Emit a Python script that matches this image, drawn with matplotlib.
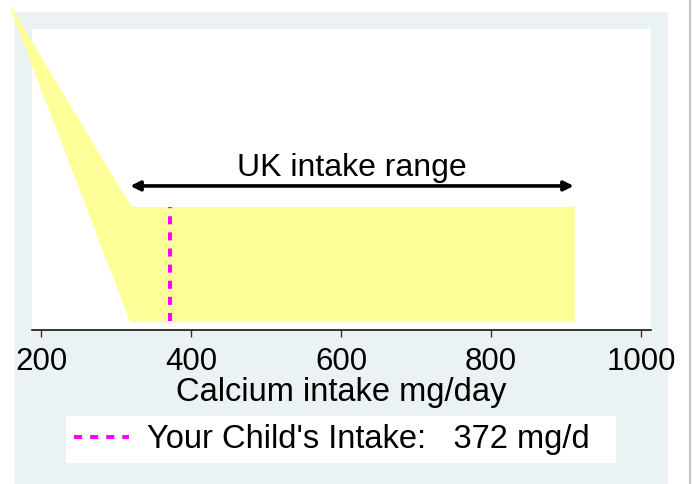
import matplotlib
matplotlib.use("Agg")
import matplotlib.pyplot as plt
from matplotlib.patches import Rectangle
from matplotlib.lines import Line2D

plt.rcParams['font.family'] = ['Liberation Sans', 'DejaVu Sans']

# data
range_x = [159, 319, 910]          # tip, start and end of UK intake range
range_lower = [2.75, 0, 0]
range_upper = [2.75, 1, 1]
child_intake = 372
xticks = [200, 400, 600, 800, 1000]

W, H = 692, 484
fig = plt.figure(figsize=(W / 100, H / 100), dpi=100)
fig.patch.set_facecolor('white')

# Stata-style graph region
fig.patches.append(Rectangle((15 / W, 0), (668 - 15) / W, (H - 12) / H,
                             transform=fig.transFigure, facecolor='#eaf2f3',
                             edgecolor='none', zorder=-10))
fig.lines.append(Line2D([690 / W, 690 / W], [0, 1], transform=fig.transFigure,
                        color='#c4c4c4', lw=1.6, zorder=-10))

ax = fig.add_axes([32 / W, (H - 330) / H, (651 - 32) / W, (330 - 29) / H])
ax.set_facecolor('white')
ax.set_xlim(188, 1013)
ax.set_ylim(-0.079, 2.56)

ax.fill_between(range_x, range_lower, range_upper, color='#ffff99',
                edgecolor='#ffff88', lw=0.8, clip_on=False, zorder=2)

ax.vlines(child_intake, 0, 1, color='#ff00ff', lw=2.9,
          linestyles=(0, (2, 2)), zorder=3,
          label="Your Child's Intake:   %d mg/d  " % child_intake)

ax.annotate('', xy=(range_x[1], 1.184), xytext=(range_x[2], 1.184),
            arrowprops=dict(arrowstyle='<|-|>', color='black', lw=2.6,
                            mutation_scale=14, shrinkA=0, shrinkB=0))
ax.text((range_x[1] + range_x[2]) / 2, 1.27, 'UK intake range', ha='center',
        va='baseline', fontsize=23)

for s in ['top', 'right', 'left']:
    ax.spines[s].set_visible(False)
ax.spines['bottom'].set_linewidth(1.1)
ax.set_yticks([])
ax.set_xticks(xticks)
ax.tick_params(axis='x', length=5, width=1, color='#333333', labelsize=22.5, pad=7)
ax.set_xlabel('Calcium intake mg/day', fontsize=23.5, labelpad=0)

fig.legend(loc='center', bbox_to_anchor=(341 / W, 1 - 439.5 / H), fontsize=23.5,
           frameon=True, fancybox=False, edgecolor='none', facecolor='white',
           framealpha=1, handlelength=1.7, handletextpad=0.55, borderpad=0.25,
           borderaxespad=0)

fig.savefig('out.png', dpi=100, facecolor='white')
